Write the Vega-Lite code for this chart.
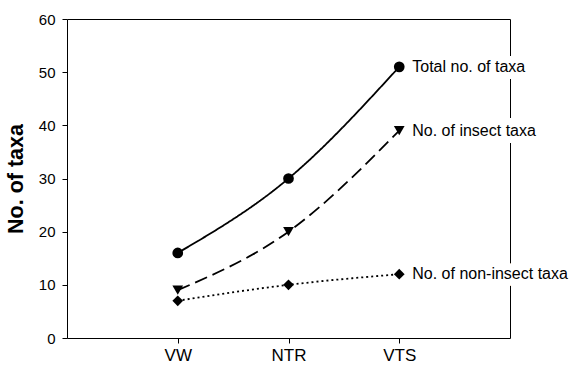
{
  "$schema": "https://vega.github.io/schema/vega-lite/v6.json",
  "width": 443,
  "height": 319,
  "autosize": {"type": "none"},
  "padding": {"left": 67, "top": 19, "right": 65, "bottom": 27},
  "background": "white",
  "config": {
    "font": "Liberation Sans",
    "view": {"stroke": "black", "strokeWidth": 1},
    "axis": {"grid": false, "domainColor": "black", "tickColor": "black", "labelColor": "black", "titleColor": "black", "tickSize": 5}
  },
  "data": {
    "values": [
      {"site": "VW", "series": "Total no. of taxa", "value": 16},
      {"site": "NTR", "series": "Total no. of taxa", "value": 30},
      {"site": "VTS", "series": "Total no. of taxa", "value": 51},
      {"site": "VW", "series": "No. of insect taxa", "value": 9},
      {"site": "NTR", "series": "No. of insect taxa", "value": 20},
      {"site": "VTS", "series": "No. of insect taxa", "value": 39},
      {"site": "VW", "series": "No. of non-insect taxa", "value": 7},
      {"site": "NTR", "series": "No. of non-insect taxa", "value": 10},
      {"site": "VTS", "series": "No. of non-insect taxa", "value": 12}
    ]
  },
  "encoding": {
    "x": {
      "field": "site", "type": "nominal", "sort": ["VW", "NTR", "VTS"],
      "scale": {"type": "point", "padding": 1},
      "axis": {"title": null, "labelAngle": 0, "labelFontSize": 17, "labelPadding": 4, "domain": false}
    },
    "y": {
      "field": "value", "type": "quantitative",
      "scale": {"domain": [0, 60]},
      "axis": {"title": "No. of taxa", "values": [0, 10, 20, 30, 40, 50, 60], "labelFontSize": 15, "labelPadding": 7, "titleFontSize": 21.5, "titleFontWeight": "bold", "titlePadding": 11, "domain": false}
    }
  },
  "layer": [
    {
      "mark": {"type": "line", "interpolate": "natural", "color": "black", "strokeWidth": 1.8},
      "encoding": {
        "detail": {"field": "series"},
        "strokeDash": {
          "field": "series", "type": "nominal",
          "scale": {"domain": ["Total no. of taxa", "No. of insect taxa", "No. of non-insect taxa"], "range": [[1, 0], [13, 6], [2, 3]]},
          "legend": null
        }
      }
    },
    {
      "transform": [{"filter": "datum.site == 'VTS'"}],
      "mark": {"type": "text", "align": "left", "baseline": "middle", "dx": 13, "fontSize": 16, "stroke": "white", "strokeWidth": 14, "fill": "white"},
      "encoding": {"text": {"field": "series"}}
    },
    {
      "mark": {"type": "point", "filled": true, "color": "black", "opacity": 1, "size": 115},
      "encoding": {
        "shape": {
          "field": "series", "type": "nominal",
          "scale": {"domain": ["Total no. of taxa", "No. of insect taxa", "No. of non-insect taxa"], "range": ["circle", "triangle-down", "diamond"]},
          "legend": null
        }
      }
    },
    {
      "transform": [{"filter": "datum.site == 'VTS'"}],
      "mark": {"type": "text", "align": "left", "baseline": "middle", "dx": 13, "fontSize": 16, "color": "black"},
      "encoding": {"text": {"field": "series"}}
    }
  ]
}
